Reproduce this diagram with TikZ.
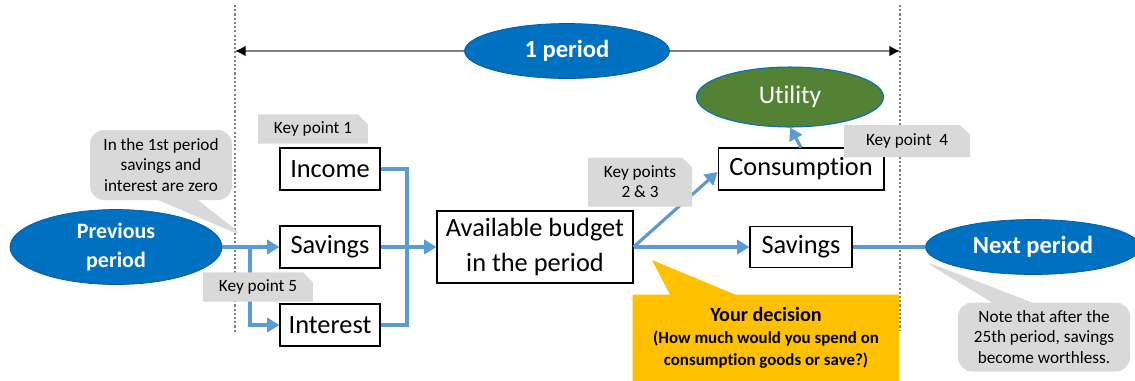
\documentclass[tikz,border=0pt]{standalone}
\usepackage{fontspec}
\setmainfont{Carlito}
\usepackage{xcolor}
\usepackage{tikz}
\usetikzlibrary{arrows.meta,positioning,calc,shapes.geometric,shapes.misc,shapes.callouts}
\definecolor{fl}{HTML}{5B9BD5}
\definecolor{bl}{HTML}{0070C0}
\definecolor{gr}{HTML}{548235}
\definecolor{kp}{HTML}{D9D9D9}
\definecolor{yl}{HTML}{FFC000}
\definecolor{ln}{HTML}{7F7F7F}
\newcommand{\BoxFont}{\fontsize{15}{18}\selectfont}
\newcommand{\KeyFont}{\fontsize{9.8}{11.4}\selectfont}
\newcommand{\NoteFont}{\fontsize{9.8}{11.6}\selectfont}
% plain t + i, without the font's ligature
\newcommand{\TI}{t\kern0pt i}

\begin{document}
\begin{tikzpicture}[x=0.02cm, y=-0.02cm,
    stage/.style={draw, line width=0.6pt, fill=white, minimum height=0.84cm, inner sep=2pt, font=\BoxFont},
    period/.style={ellipse, draw=bl!80!black, line width=0.4pt, fill=bl, text=white, inner sep=0pt, font=\bfseries},
    keypt/.style={chamfered rectangle, chamfered rectangle corners=north east, chamfered rectangle xsep=2.5pt,
      fill=kp, inner sep=1pt, font=\KeyFont, align=center},
    flow/.style={draw=fl, line width=1.8pt},
    arr/.style={flow, -{Triangle[length=7pt, width=8pt]}},
    edge/.style={dash pattern=on 1.2pt off 1.2pt, ln, line width=0.6pt}]
  \useasboundingbox (0,0) rectangle (1135,380);

  % period boundaries
  \coordinate (ltop) at (235,5);
  \coordinate (lbot) at (235,332);
  \coordinate (rtop) at (900,5);
  \coordinate (rbot) at (900,330);
  \draw[edge] (ltop) -- (lbot);
  \draw[edge] (rtop) -- (rbot);
  \coordinate (pl) at (235,51);
  \coordinate (pr) at (900,51);
  \draw[ln, line width=0.8pt, {Latex[black,length=6pt,width=6pt]}-{Latex[black,length=6pt,width=6pt]}] (pl) -- (pr);
  \node[period, minimum width=4.1cm, minimum height=1.1cm, font=\fontsize{14}{16}\selectfont\bfseries] (one) at (567,51) {1 period};

  % stages
  \node[period, minimum width=4.24cm, minimum height=1.5cm, align=center,
    font=\fontsize{12.5}{17}\selectfont\bfseries] (prev) at (116,247) {Previous\\period};
  \node[stage, minimum width=2cm] (inc) at (330,169) {Income};
  \node[stage, minimum width=2cm] (sav) at (330,247) {Savings};
  \node[stage, minimum width=2cm] (int) at (330,325) {Interest};
  \node[stage, minimum width=3.92cm, minimum height=1.44cm, align=center,
    font=\fontsize{15}{20}\selectfont] (avail) at (535,247) {Available budget\\in the period};
  \node[stage, minimum width=3.32cm] (cons) at (801,169) {Consump\TI on};
  \node[stage, minimum width=2.04cm, minimum height=0.82cm] (sav2) at (801,247) {Savings};
  \node[ellipse, draw=bl, line width=0.6pt, fill=gr, text=white, inner sep=0pt, minimum width=3.74cm,
    minimum height=1.2cm, font=\fontsize{14.5}{16}\selectfont] (util) at (790,97) {U\TI li\kern0pt ty};
  \node[period, minimum width=4.3cm, minimum height=1.1cm, font=\fontsize{14}{16}\selectfont\bfseries] (next) at (1033,247) {Next period};

  % money flows
  \coordinate (bus) at (407,247);
  \coordinate (split) at (250,247);
  \draw[flow] (inc.east) -| (bus) |- (int.east);
  \draw[arr] (sav.east) -- (avail.west);
  \draw[arr] (prev.east) -- (sav.west);
  \draw[arr] (split) |- (int.west);
  \draw[arr] (avail.east) -- ($(cons.west)+(0,3)$);
  \draw[arr] (avail.east) -- (sav2.west);
  \draw[flow] (sav2.east) -- (next.west);
  \draw[arr] (cons.north) -- (util.south);

  % notes
  \node[rectangle callout, rounded corners=8pt, fill=kp, minimum width=2.84cm, minimum height=1.4cm,
    callout absolute pointer={(245,237)}, callout pointer width=0.8cm, align=center, font=\NoteFont]
    (first) at (161,165) {In the 1st period\\savings and\\interest are zero};
  \node[rectangle callout, rounded corners=8pt, fill=kp, minimum width=3.44cm, minimum height=1.38cm,
    callout absolute pointer={(922,260)}, callout pointer width=0.8cm, align=center, font=\NoteFont]
    (last) at (1044,337) {Note that after the\\25th period, savings\\become worthless.};
  \node[rectangle callout, fill=yl, minimum width=5.34cm, minimum height=1.74cm,
    callout absolute pointer={(652,260)}, callout pointer width=1.3cm, align=center,
    font=\fontsize{9.6}{12.5}\selectfont\bfseries] (dec) at (766,338)
    {{\fontsize{11.5}{14}\selectfont Your decision}\\(How much would you spend on\\consump\TI on goods or save?)};

  % key points
  \node[keypt, minimum width=2.2cm, minimum height=0.56cm] (kp1) at (313,129) {Key point 1};
  \node[keypt, minimum width=2.2cm, minimum height=0.58cm] (kp5) at (258,287) {Key point 5};
  \node[keypt, minimum width=2.08cm, minimum height=0.98cm] (kp23) at (640,182) {Key points\\2 \& 3};
  \node[keypt, minimum width=2.52cm, minimum height=0.64cm] (kp4) at (907,141) {Key point\ \ 4};
\end{tikzpicture}
\end{document}
